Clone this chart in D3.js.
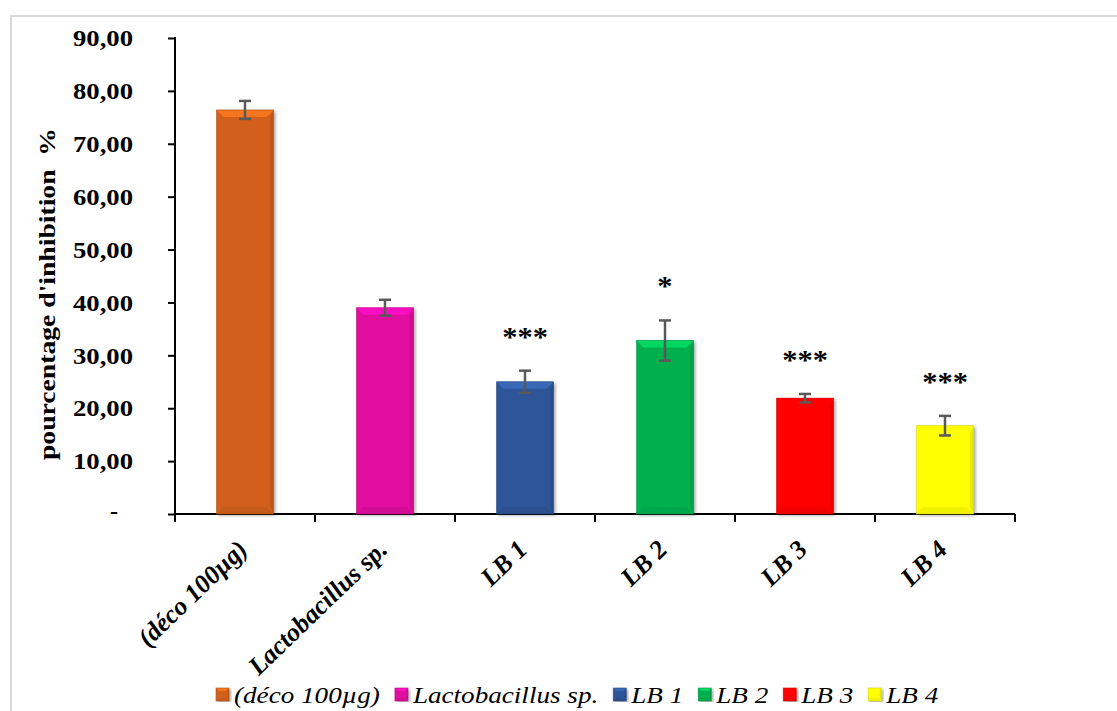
<!DOCTYPE html>
<html><head><meta charset="utf-8">
<script src="https://cdn.jsdelivr.net/npm/d3@7"></script>
<style>html,body{margin:0;padding:0;background:#fff;} svg{display:block;}</style>
</head><body>
<svg id="chart" width="1117" height="711"></svg>
<script>
// ---- data ----
const categories = ["(déco 100µg)", "Lactobacillus sp.", "LB 1", "LB 2", "LB 3", "LB 4"];
const values = [76.4, 39.0, 25.0, 32.8, 21.9, 16.7];
const errors = [1.7, 1.5, 2.1, 3.8, 0.8, 1.85];
const significance = ["", "", "***", "*", "***", "***"];
const colors = ["#D2601A", "#E00C9F", "#2F5597", "#00B050", "#FF0000", "#FFFF00"];
const yTicks = [0, 10, 20, 30, 40, 50, 60, 70, 80, 90];
const yTitle = "pourcentage d'inhibition  %";

// ---- setup ----
const SX = 1.13;           // horizontal stretch of text seen in the reference
const FONT = "'Liberation Serif','Times New Roman',serif";
const svg = d3.select("#chart");
const plot = {x0: 175, x1: 1015, y0: 514, y1: 38};

svg.append("rect").attr("width", 1117).attr("height", 711).attr("fill", "#fff");
svg.append("rect").attr("x", 11).attr("y", 16).attr("width", 1300).attr("height", 900)
  .attr("fill", "none").attr("stroke", "#d9d9d9").attr("stroke-width", 2);

const defs = svg.append("defs");
const f = defs.append("filter").attr("id", "shadow").attr("x", "-20%").attr("y", "-5%").attr("width", "140%").attr("height", "110%");
f.append("feDropShadow").attr("dx", 2).attr("dy", 1.5).attr("stdDeviation", 1.5)
  .attr("flood-color", "#000").attr("flood-opacity", 0.35);

const y = d3.scaleLinear().domain([0, 90]).range([plot.y0, plot.y1]);
const x = d3.scaleBand().domain(categories).range([plot.x0, plot.x1])
  .paddingInner(0.593).paddingOuter(0.2965);

// ---- y axis ----
const fmt = d => d === 0 ? "-" : d3.format(".2f")(d).replace(".", ",");
const gy = svg.append("g").attr("transform", `translate(${plot.x0},0)`)
  .call(d3.axisLeft(y).tickValues(yTicks).tickSize(7).tickPadding(35).tickFormat(fmt));
gy.select(".domain").remove();
gy.selectAll(".tick line").attr("stroke", "#000").attr("stroke-width", 2);
gy.selectAll(".tick text")
  .attr("font-family", FONT).attr("font-weight", "bold").attr("font-size", 24).attr("fill", "#000")
  .each(function(d) {
    const t = d3.select(this);
    if (d === 0) t.attr("dx", -15).attr("dy", "0.2em");
    else t.attr("textLength", 60).attr("lengthAdjust", "spacingAndGlyphs");
  });
svg.append("line").attr("x1", plot.x0).attr("x2", plot.x0).attr("y1", plot.y1 - 1).attr("y2", plot.y0 + 8)
  .attr("stroke", "#000").attr("stroke-width", 2);

// ---- x axis ----
svg.append("line").attr("x1", plot.x0).attr("x2", plot.x1).attr("y1", plot.y0).attr("y2", plot.y0)
  .attr("stroke", "#000").attr("stroke-width", 2);
const bounds = d3.range(categories.length + 1).map(i => x.range()[0] + i * x.step());
svg.selectAll(".xtick").data(bounds.slice(1)).join("line")
  .attr("x1", d => d).attr("x2", d => d).attr("y1", plot.y0).attr("y2", plot.y0 + 8)
  .attr("stroke", "#000").attr("stroke-width", 2);

svg.selectAll(".xlab").data(categories).join("text")
  .attr("transform", d => `translate(${x(d) + x.bandwidth() / 2 + 4},551) scale(1.04,1) rotate(-45)`)
  .attr("text-anchor", "end")
  .attr("font-family", FONT).attr("font-weight", "bold").attr("font-style", "italic")
  .attr("font-size", 25.5).attr("fill", "#000")
  .text(d => d);

// ---- bars ----
function bevelBar(g, bx, by, w, h, c, b) {
  const base = d3.color(c);
  const light = base.brighter(0.7).formatHex();
  const dark = base.darker(0.6).formatHex();
  const darker = base.darker(0.35).formatHex();
  g.append("rect").attr("x", bx).attr("y", by).attr("width", w).attr("height", h)
    .attr("fill", c).attr("filter", "url(#shadow)");
  g.append("polygon").attr("points", [[bx, by], [bx + w, by], [bx + w - b, by + b], [bx + b, by + b]].join(" "))
    .attr("fill", light).attr("opacity", 0.8);
  g.append("polygon").attr("points", [[bx, by + h], [bx + w, by + h], [bx + w - b, by + h - b], [bx + b, by + h - b]].join(" "))
    .attr("fill", darker).attr("opacity", 0.5);
  g.append("polygon").attr("points", [[bx + w, by], [bx + w, by + h], [bx + w - b * 0.5, by + h - b], [bx + w - b * 0.5, by + b]].join(" "))
    .attr("fill", dark).attr("opacity", 0.45);
  g.append("rect").attr("x", bx).attr("y", by).attr("width", w).attr("height", h)
    .attr("fill", "none").attr("stroke", dark).attr("stroke-width", 0.8).attr("stroke-opacity", 0.7);
}

const data = categories.map((c, i) => ({c, v: values[i], e: errors[i], s: significance[i], col: colors[i]}));
const gb = svg.append("g");
data.forEach(d => {
  bevelBar(gb.append("g"), x(d.c), y(d.v), x.bandwidth(), y(0) - y(d.v), d.col, 7);
});

// ---- error bars ----
const ge = svg.append("g").attr("stroke", "#595959").attr("stroke-width", 2.5);
data.forEach(d => {
  const cx = x(d.c) + x.bandwidth() / 2;
  ge.append("line").attr("x1", cx).attr("x2", cx).attr("y1", y(d.v + d.e)).attr("y2", y(d.v - d.e));
  ge.append("line").attr("x1", cx - 6).attr("x2", cx + 6).attr("y1", y(d.v + d.e)).attr("y2", y(d.v + d.e));
  ge.append("line").attr("x1", cx - 6).attr("x2", cx + 6).attr("y1", y(d.v - d.e)).attr("y2", y(d.v - d.e));
});

// ---- significance stars ----
svg.selectAll(".star").data(data.filter(d => d.s)).join("text")
  .attr("transform", d => `translate(${x(d.c) + x.bandwidth() / 2},${y(d.v + d.e) - 25}) scale(${SX},1)`)
  .attr("text-anchor", "middle")
  .attr("font-family", FONT).attr("font-weight", "bold").attr("font-size", 27).attr("fill", "#000")
  .text(d => d.s);

// ---- y title ----
svg.append("text")
  .attr("transform", "translate(55,294) rotate(-90)")
  .attr("text-anchor", "middle")
  .attr("xml:space", "preserve").style("white-space", "pre")
  .attr("font-family", FONT).attr("font-weight", "bold").attr("font-size", 24).attr("fill", "#000")
  .attr("textLength", 332).attr("lengthAdjust", "spacingAndGlyphs")
  .text(yTitle);

// ---- legend ----
const legend = svg.append("g");
let cursor = 216;
const ly = 695;
data.forEach(d => {
  const g = legend.append("g");
  bevelBar(g, cursor, ly - 7, 13, 13, d.col, 3);
  const t = g.append("text").attr("x", cursor + 18).attr("y", ly + 8)
    .attr("font-family", FONT).attr("font-style", "italic").attr("font-size", 24).attr("fill", "#000")
    .text(d.c);
  const w = t.node().getComputedTextLength() * SX;
  t.attr("textLength", w).attr("lengthAdjust", "spacingAndGlyphs");
  cursor = cursor + 18 + w + 15;
});
</script>
</body></html>
